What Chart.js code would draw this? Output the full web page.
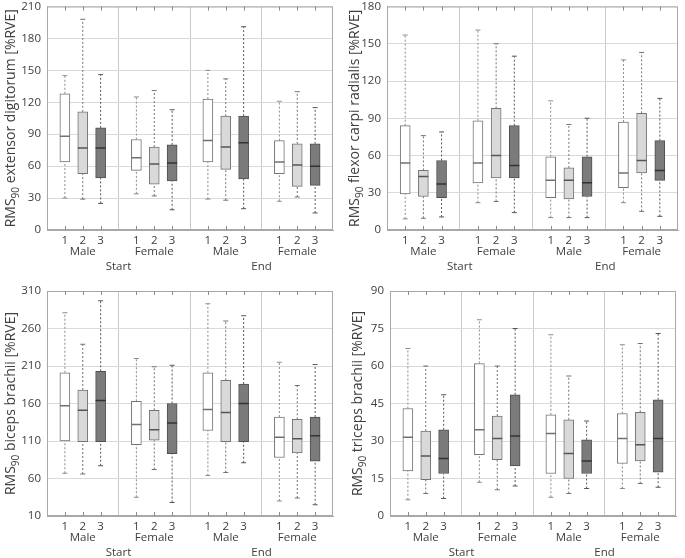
<!DOCTYPE html>
<html>
<head>
<meta charset="utf-8">
<script src="https://cdn.jsdelivr.net/npm/chart.js@4.4.1/dist/chart.umd.min.js"></script>
<style>
  body { margin: 0; background: #fff; }
  #wrap { position: relative; width: 685px; height: 558px; }
  #wrap canvas { position: absolute; }
</style>
</head>
<body>
<div id="wrap">
  <canvas id="p1" width="345" height="279" style="left:0;top:0"></canvas>
  <canvas id="p2" width="340" height="279" style="left:345px;top:0"></canvas>
  <canvas id="p3" width="345" height="279" style="left:0;top:279px"></canvas>
  <canvas id="p4" width="340" height="279" style="left:345px;top:279px"></canvas>
</div>
<script>
// --- x layout: 3 boxes per group, empty slot between groups ---
const positions = [1, 2, 3, 5, 6, 7, 9, 10, 11, 13, 14, 15];
const boxLabels = ['1', '2', '3', '1', '2', '3', '1', '2', '3', '1', '2', '3'];
const groupEdges = [4, 8, 12];
const groupCenters = [2, 6, 10, 14];
const groupLabels = ['Male', 'Female', 'Male', 'Female'];
const phaseCenters = [4, 12];
const phaseLabels = ['Start', 'End'];

// --- extensor digitorum ---
const edHigh = [145, 198, 146, 125, 131, 113, 150, 142, 191, 121, 130, 115];
const edQ3 = [128, 111, 96, 85, 78, 80, 123, 107, 107, 84, 81, 81];
const edMed = [88, 77, 77, 68, 62, 63, 84, 78, 82, 64, 61, 60];
const edQ1 = [64, 53, 49, 56, 43, 46, 64, 57, 48, 53, 41, 42];
const edLow = [30, 29, 25, 34, 32, 19, 29, 28, 20, 27, 31, 16];

// --- flexor carpi radialis ---
const fcrHigh = [157, 76, 79, 161, 150, 140, 104, 85, 90, 137, 143, 106];
const fcrQ3 = [84, 48, 56, 88, 98, 84, 59, 50, 59, 87, 94, 72];
const fcrMed = [54, 43, 37, 54, 60, 52, 40, 40, 38, 46, 56, 48];
const fcrQ1 = [29, 27, 26, 38, 42, 42, 26, 25, 27, 34, 46, 40];
const fcrLow = [9, 9.5, 10.5, 22, 23, 14, 10, 10, 10, 22, 15, 11];

// --- biceps brachii ---
const bbHigh = [281, 239, 297, 220, 209, 211, 293, 270, 277, 215, 184, 212];
const bbQ3 = [201, 178, 203, 163, 151, 160, 201, 191, 186, 142, 139, 142];
const bbMed = [157, 151, 164, 132, 125, 134, 152, 148, 160, 115, 113, 117];
const bbQ1 = [110, 109, 109, 105, 111, 93, 124, 109, 109, 88, 94, 83];
const bbLow = [67, 66, 77, 35, 72, 28, 64, 68, 81, 30, 34, 25];

// --- triceps brachii ---
const tbHigh = [67, 60, 48.5, 78.5, 60, 75, 72.5, 56, 38, 68.5, 69, 73];
const tbQ3 = [43, 34, 34.5, 61, 40, 48.5, 40.5, 38.5, 30.5, 41, 41.5, 46.5];
const tbMed = [31.5, 24, 23, 34.5, 31, 32, 33, 25, 22, 31, 28.5, 31];
const tbQ1 = [18, 14.5, 17, 24.5, 22.5, 20, 17, 15, 17, 21, 22, 17.5];
const tbLow = [6.5, 9, 7, 13.5, 10.5, 12, 7.5, 9, 11, 11, 13, 11.5];

// styles for box type 1 / 2 / 3
const fills = ['#ffffff', '#d9d9d9', '#7b7b7b'];
const edges = ['#747474', '#747474', '#4f4f4f'];
const medianColors = ['#707070', '#555555', '#333333'];
const whiskerColors = ['#8c8c8c', '#737373', '#575757'];
const textColor = '#404040';
const fontFamily = "'Open Sans', sans-serif";

const panels = [
  { id: 'p1', name: ' extensor digitorum [%RVE]', min: 0, max: 210, step: 30,
    high: edHigh, q3: edQ3, med: edMed, q1: edQ1, low: edLow,
    yWidth: 47, pad: { top: 5, right: 12, bottom: 7 }, titleX: 11 },
  { id: 'p2', name: ' flexor carpi radialis [%RVE]', min: 0, max: 180, step: 30,
    high: fcrHigh, q3: fcrQ3, med: fcrMed, q1: fcrQ1, low: fcrLow,
    yWidth: 42, pad: { top: 5, right: 7, bottom: 7 }, titleX: 10 },
  { id: 'p3', name: ' biceps brachii [%RVE]', min: 10, max: 310, step: 50,
    high: bbHigh, q3: bbQ3, med: bbMed, q1: bbQ1, low: bbLow,
    yWidth: 47, pad: { top: 12, right: 12, bottom: 0 }, titleX: 11 },
  { id: 'p4', name: ' triceps brachii [%RVE]', min: 0, max: 90, step: 15,
    high: tbHigh, q3: tbQ3, med: tbMed, q1: tbQ1, low: tbLow,
    yWidth: 45, pad: { top: 12, right: 9, bottom: 0 }, titleX: 13 }
];

// frame, inward ticks, group rows and the rotated y title with subscript
const frame = {
  id: 'frame',
  afterDraw(chart, args, o) {
    const { ctx, chartArea: a } = chart;
    const sx = chart.scales.x;
    ctx.save();
    ctx.strokeStyle = '#a8a8a8';
    ctx.lineWidth = 1;
    ctx.strokeRect(a.left + 0.5, a.top + 0.5, a.right - a.left - 1, a.bottom - a.top - 1);
    ctx.strokeStyle = '#8a8a8a';
    ctx.beginPath();
    positions.forEach(v => {
      const x = Math.round(sx.getPixelForValue(v)) + 0.5;
      ctx.moveTo(x, a.bottom); ctx.lineTo(x, a.bottom - 4);
      ctx.moveTo(x, a.top); ctx.lineTo(x, a.top + 4);
    });
    ctx.stroke();

    // Male / Female and Start / End rows
    ctx.fillStyle = textColor;
    ctx.font = '11.5px ' + fontFamily;
    ctx.textAlign = 'center';
    ctx.textBaseline = 'middle';
    groupCenters.forEach((v, i) => ctx.fillText(groupLabels[i], sx.getPixelForValue(v), a.bottom + 22));
    phaseCenters.forEach((v, i) => ctx.fillText(phaseLabels[i], sx.getPixelForValue(v), a.bottom + 37));

    // y title
    const cy = (a.top + a.bottom) / 2;
    const big = '14px ' + fontFamily, small = '10px ' + fontFamily;
    ctx.font = big;
    const w1 = ctx.measureText('RMS').width;
    const w3 = ctx.measureText(o.name).width;
    ctx.font = small;
    const w2 = ctx.measureText('90').width;
    const total = w1 + w2 + w3;
    ctx.translate(o.titleX, cy);
    ctx.rotate(-Math.PI / 2);
    ctx.textAlign = 'left';
    let x0 = -total / 2;
    ctx.font = big;
    ctx.fillText('RMS', x0, 0);
    ctx.font = small;
    ctx.fillText('90', x0 + w1, 5);
    ctx.font = big;
    ctx.fillText(o.name, x0 + w1 + w2, 0);
    ctx.restore();
  }
};

function makeDatasets(p) {
  const sets = [];
  for (let s = 0; s < 3; s++) {
    const idx = positions.map((x, i) => i).filter(i => i % 3 === s);
    const boxes = idx.map(i => ({ x: positions[i], y: [p.q1[i], p.q3[i]] }));
    const medians = idx.map(i => ({ x: positions[i], y: p.med[i] }));
    const caps = [];
    const whiskers = [];
    idx.forEach(i => {
      const x = positions[i];
      caps.push({ x, y: p.high[i] }, { x, y: p.low[i] });
      whiskers.push({ x, y: p.q3[i] }, { x, y: p.high[i] }, { x, y: null },
                    { x, y: p.low[i] }, { x, y: p.q1[i] }, { x, y: null });
    });

    sets.push({
      type: 'bar', data: boxes, order: 2,
      backgroundColor: fills[s], borderColor: edges[s], borderWidth: 1,
      borderSkipped: false, barThickness: 10, grouped: false
    });
    sets.push({
      type: 'line', data: whiskers, order: 3,
      borderColor: whiskerColors[s], borderWidth: 1, borderDash: [2, 2],
      pointRadius: 0, spanGaps: false, fill: false
    });
    sets.push({
      type: 'line', data: caps, order: 3, showLine: false,
      pointStyle: 'line', pointRadius: 2.5, pointBorderWidth: 1,
      pointBorderColor: whiskerColors[s]
    });
    sets.push({
      type: 'line', data: medians, order: 1, showLine: false,
      pointStyle: 'line', pointRadius: 5, pointBorderWidth: 1.5,
      pointBorderColor: medianColors[s]
    });
  }
  return sets;
}

Chart.defaults.animation = false;
Chart.defaults.events = [];

panels.forEach(p => {
  new Chart(document.getElementById(p.id), {
    type: 'bar',
    data: { datasets: makeDatasets(p) },
    options: {
      responsive: false,
      layout: { padding: { left: 0, top: p.pad.top, right: p.pad.right, bottom: p.pad.bottom } },
      plugins: {
        legend: { display: false },
        tooltip: { enabled: false },
        frame: { name: p.name, titleX: p.titleX }
      },
      scales: {
        x: {
          type: 'linear', position: 'bottom', min: 0, max: 16, offset: false,
          grid: {
            drawTicks: false, offset: false,
            color: c => groupEdges.includes(c.tick && c.tick.value) ? '#c8c8c8' : 'rgba(0,0,0,0)'
          },
          border: { color: '#a8a8a8' },
          afterFit: sc => { sc.height = 42; sc.paddingLeft = 0; sc.paddingRight = 0; },
          ticks: {
            stepSize: 1, autoSkip: false, maxRotation: 0, padding: 4, color: textColor,
            font: { family: fontFamily, size: 11.5 },
            callback: v => {
              const k = positions.indexOf(v);
              return k < 0 ? '' : boxLabels[k];
            }
          }
        },
        y: {
          min: p.min, max: p.max,
          grid: { color: '#dadada', drawTicks: false },
          border: { color: '#a8a8a8' },
          afterFit: sc => { sc.width = p.yWidth; sc.paddingTop = 0; sc.paddingBottom = 0; },
          ticks: {
            stepSize: p.step, padding: 6, color: textColor,
            font: { family: fontFamily, size: 11.5 }
          }
        }
      }
    },
    plugins: [frame]
  });
});
</script>
</body>
</html>
